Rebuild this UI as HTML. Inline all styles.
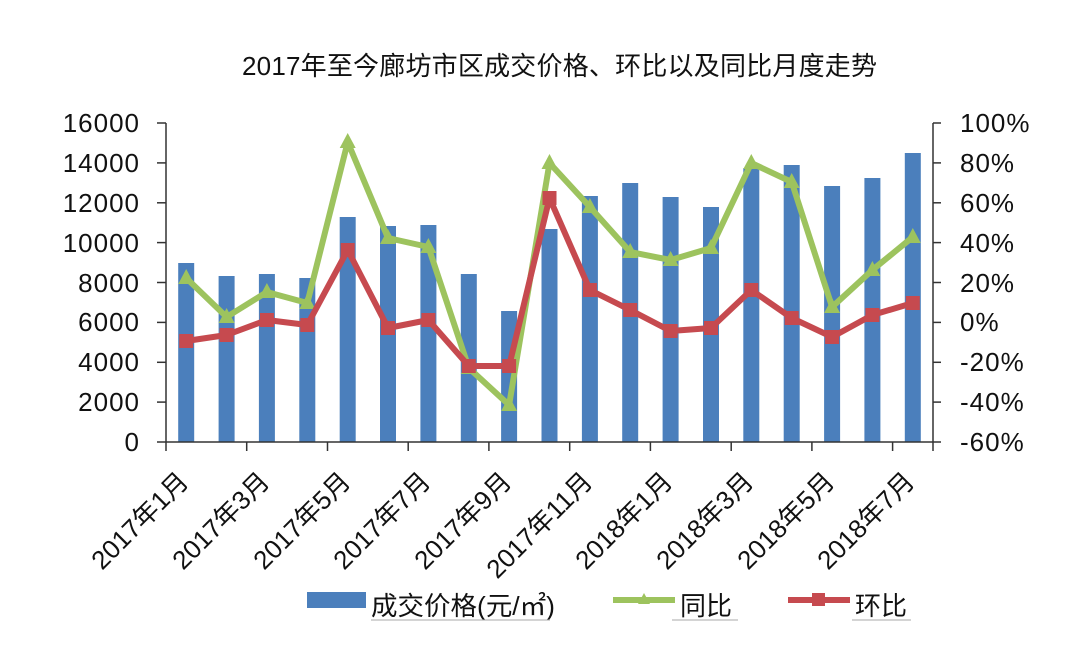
<!DOCTYPE html>
<html>
<head>
<meta charset="utf-8">
<style>
html,body{margin:0;padding:0;background:#fff;}
svg{display:block;}
text{font-family:"Liberation Sans","Noto Sans CJK SC",sans-serif;fill:#111;}
</style>
</head>
<body>
<svg width="1080" height="668" viewBox="0 0 1080 668" xmlns="http://www.w3.org/2000/svg">
<rect x="0" y="0" width="1080" height="668" fill="#fff"/>

<!-- Title -->
<text x="242" y="75" font-size="26" textLength="635" lengthAdjust="spacing">2017年至今廊坊市区成交价格、环比以及同比月度走势</text>

<!-- Bars -->
<g fill="#4b7fbc">
<rect x="178.2" y="263" width="16" height="179"/>
<rect x="218.6" y="276" width="16" height="166"/>
<rect x="258.9" y="274" width="16" height="168"/>
<rect x="299.3" y="278" width="16" height="164"/>
<rect x="339.7" y="217" width="16" height="225"/>
<rect x="380.0" y="226" width="16" height="216"/>
<rect x="420.4" y="225" width="16" height="217"/>
<rect x="460.8" y="274" width="16" height="168"/>
<rect x="501.1" y="311" width="16" height="131"/>
<rect x="541.5" y="229" width="16" height="213"/>
<rect x="581.9" y="196" width="16" height="246"/>
<rect x="622.2" y="183" width="16" height="259"/>
<rect x="662.6" y="197" width="16" height="245"/>
<rect x="703.0" y="207" width="16" height="235"/>
<rect x="743.3" y="168" width="16" height="274"/>
<rect x="783.7" y="165" width="16" height="277"/>
<rect x="824.1" y="186" width="16" height="256"/>
<rect x="864.4" y="178" width="16" height="264"/>
<rect x="904.8" y="153" width="16" height="289"/>
</g>

<!-- Axes -->
<g stroke="#333" stroke-width="1.5" fill="none">
<line x1="166" y1="123" x2="166" y2="442"/>
<line x1="933" y1="123" x2="933" y2="442"/>
<line x1="157" y1="442" x2="941" y2="442"/>
<!-- left ticks -->
<line x1="157" y1="123" x2="166" y2="123"/>
<line x1="157" y1="162.9" x2="166" y2="162.9"/>
<line x1="157" y1="202.8" x2="166" y2="202.8"/>
<line x1="157" y1="242.6" x2="166" y2="242.6"/>
<line x1="157" y1="282.5" x2="166" y2="282.5"/>
<line x1="157" y1="322.4" x2="166" y2="322.4"/>
<line x1="157" y1="362.3" x2="166" y2="362.3"/>
<line x1="157" y1="402.1" x2="166" y2="402.1"/>
<!-- right ticks -->
<line x1="933" y1="123" x2="941" y2="123"/>
<line x1="933" y1="162.9" x2="941" y2="162.9"/>
<line x1="933" y1="202.8" x2="941" y2="202.8"/>
<line x1="933" y1="242.6" x2="941" y2="242.6"/>
<line x1="933" y1="282.5" x2="941" y2="282.5"/>
<line x1="933" y1="322.4" x2="941" y2="322.4"/>
<line x1="933" y1="362.3" x2="941" y2="362.3"/>
<line x1="933" y1="402.1" x2="941" y2="402.1"/>
<!-- bottom ticks -->
<line x1="166" y1="442" x2="166" y2="451"/>
<line x1="246.7" y1="442" x2="246.7" y2="451"/>
<line x1="327.5" y1="442" x2="327.5" y2="451"/>
<line x1="408.2" y1="442" x2="408.2" y2="451"/>
<line x1="488.9" y1="442" x2="488.9" y2="451"/>
<line x1="569.7" y1="442" x2="569.7" y2="451"/>
<line x1="650.4" y1="442" x2="650.4" y2="451"/>
<line x1="731.2" y1="442" x2="731.2" y2="451"/>
<line x1="811.9" y1="442" x2="811.9" y2="451"/>
<line x1="892.6" y1="442" x2="892.6" y2="451"/>
<line x1="933" y1="442" x2="933" y2="451"/>
</g>

<!-- Left axis labels -->
<g font-size="26" text-anchor="end" letter-spacing="1">
<text x="140" y="132">16000</text>
<text x="140" y="172">14000</text>
<text x="140" y="212">12000</text>
<text x="140" y="252">10000</text>
<text x="140" y="292">8000</text>
<text x="140" y="331">6000</text>
<text x="140" y="371">4000</text>
<text x="140" y="411">2000</text>
<text x="140" y="451">0</text>
</g>

<!-- Right axis labels -->
<g font-size="26" letter-spacing="1">
<text x="960" y="132">100%</text>
<text x="960" y="172">80%</text>
<text x="960" y="212">60%</text>
<text x="960" y="252">40%</text>
<text x="960" y="292">20%</text>
<text x="960" y="331">0%</text>
<text x="960" y="371">-20%</text>
<text x="960" y="411">-40%</text>
<text x="960" y="451">-60%</text>
</g>

<!-- X labels -->
<g font-size="26" text-anchor="end">
<text transform="translate(190,483) rotate(-45)">2017年1月</text>
<text transform="translate(271,483) rotate(-45)">2017年3月</text>
<text transform="translate(352,483) rotate(-45)">2017年5月</text>
<text transform="translate(432,483) rotate(-45)">2017年7月</text>
<text transform="translate(513,483) rotate(-45)">2017年9月</text>
<text transform="translate(594,483) rotate(-45)">2017年11月</text>
<text transform="translate(674,483) rotate(-45)">2018年1月</text>
<text transform="translate(755,483) rotate(-45)">2018年3月</text>
<text transform="translate(836,483) rotate(-45)">2018年5月</text>
<text transform="translate(916,483) rotate(-45)">2018年7月</text>
</g>

<!-- Green line 同比 -->
<polyline fill="none" stroke="#9dc35e" stroke-width="6" stroke-linejoin="round" points="186.2,278 226.6,317 266.9,292 307.3,303 347.7,142 388.0,238 428.4,247 468.8,368 509.1,405 549.5,163 589.9,207 630.2,252 670.6,260 711.0,248 751.3,163 791.7,182 832.1,307 872.4,270 912.8,237"/>
<g fill="#9dc35e">
<polygon points="186.2,269 178.2,284 194.2,284"/>
<polygon points="226.6,308 218.6,323 234.6,323"/>
<polygon points="266.9,283 258.9,298 274.9,298"/>
<polygon points="307.3,294 299.3,309 315.3,309"/>
<polygon points="347.7,133 339.7,148 355.7,148"/>
<polygon points="388.0,229 380.0,244 396.0,244"/>
<polygon points="428.4,238 420.4,253 436.4,253"/>
<polygon points="468.8,359 460.8,374 476.8,374"/>
<polygon points="509.1,396 501.1,411 517.1,411"/>
<polygon points="549.5,154 541.5,169 557.5,169"/>
<polygon points="589.9,198 581.9,213 597.9,213"/>
<polygon points="630.2,243 622.2,258 638.2,258"/>
<polygon points="670.6,251 662.6,266 678.6,266"/>
<polygon points="711.0,239 703.0,254 719.0,254"/>
<polygon points="751.3,154 743.3,169 759.3,169"/>
<polygon points="791.7,173 783.7,188 799.7,188"/>
<polygon points="832.1,298 824.1,313 840.1,313"/>
<polygon points="872.4,261 864.4,276 880.4,276"/>
<polygon points="912.8,228 904.8,243 920.8,243"/>
</g>

<!-- Red line 环比 -->
<polyline fill="none" stroke="#c64a4f" stroke-width="6" stroke-linejoin="round" points="186.2,341 226.6,335 266.9,320 307.3,325 347.7,250 388.0,328 428.4,320 468.8,366 509.1,366 549.5,198 589.9,290 630.2,310 670.6,331 711.0,328 751.3,290 791.7,318 832.1,337 872.4,315 912.8,303"/>
<g fill="#c64a4f">
<rect x="179.2" y="334" width="14" height="14"/>
<rect x="219.6" y="328" width="14" height="14"/>
<rect x="259.9" y="313" width="14" height="14"/>
<rect x="300.3" y="318" width="14" height="14"/>
<rect x="340.7" y="243" width="14" height="14"/>
<rect x="381.0" y="321" width="14" height="14"/>
<rect x="421.4" y="313" width="14" height="14"/>
<rect x="461.8" y="359" width="14" height="14"/>
<rect x="502.1" y="359" width="14" height="14"/>
<rect x="542.5" y="191" width="14" height="14"/>
<rect x="582.9" y="283" width="14" height="14"/>
<rect x="623.2" y="303" width="14" height="14"/>
<rect x="663.6" y="324" width="14" height="14"/>
<rect x="704.0" y="321" width="14" height="14"/>
<rect x="744.3" y="283" width="14" height="14"/>
<rect x="784.7" y="311" width="14" height="14"/>
<rect x="825.1" y="330" width="14" height="14"/>
<rect x="865.4" y="308" width="14" height="14"/>
<rect x="905.8" y="296" width="14" height="14"/>
</g>

<!-- Legend -->
<rect x="307" y="592" width="59" height="16" fill="#4b7fbc"/>
<text x="371" y="615" font-size="26" textLength="184" lengthAdjust="spacingAndGlyphs">成交价格(元/㎡)</text>
<line x1="371" y1="620" x2="550" y2="620" stroke="#aaa" stroke-width="1"/>

<line x1="613" y1="600" x2="675" y2="600" stroke="#9dc35e" stroke-width="6"/>
<polygon points="644,593 638,604 650,604" fill="#9dc35e"/>
<text x="680" y="615" font-size="26">同比</text>
<line x1="672" y1="620" x2="738" y2="620" stroke="#aaa" stroke-width="1"/>

<line x1="788" y1="600" x2="850" y2="600" stroke="#c64a4f" stroke-width="6"/>
<rect x="812" y="593" width="13" height="13" fill="#c64a4f"/>
<text x="855" y="615" font-size="26">环比</text>
<line x1="852" y1="620" x2="911" y2="620" stroke="#aaa" stroke-width="1"/>
</svg>
</body>
</html>
